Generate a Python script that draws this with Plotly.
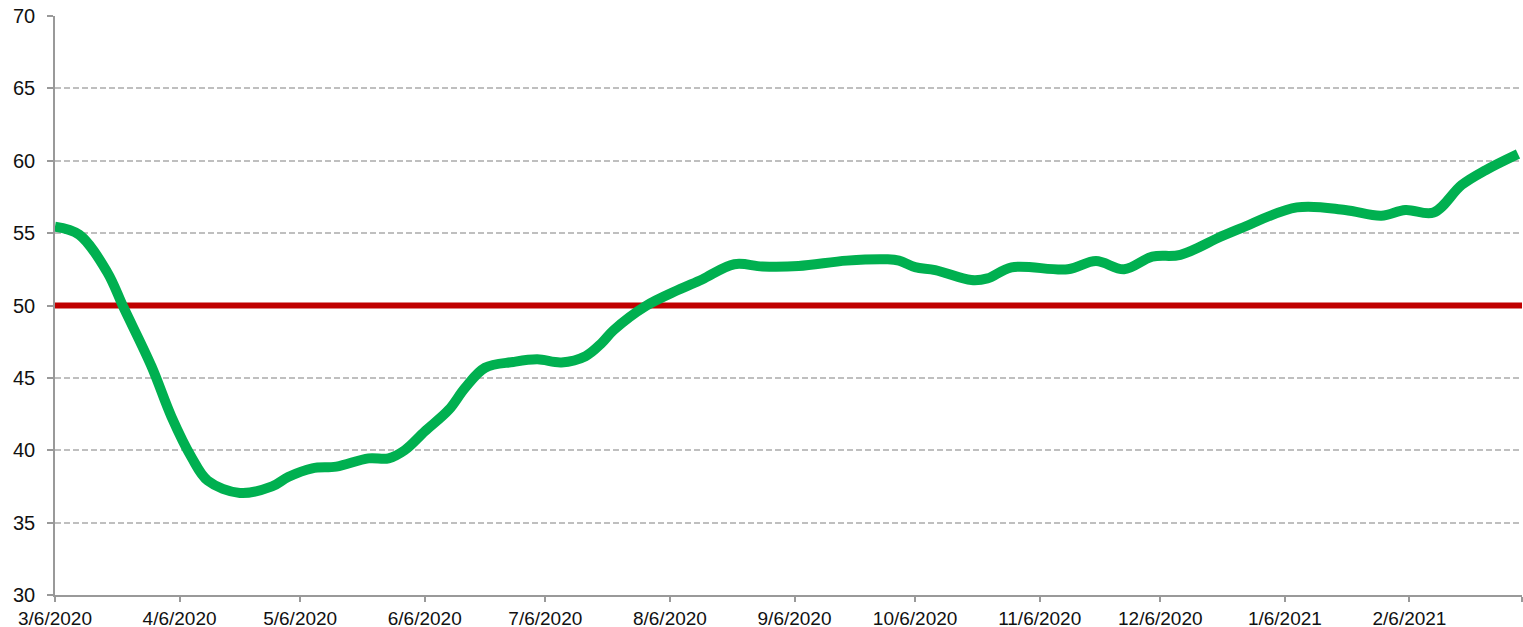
import plotly.graph_objects as go

dates = [
    "2020-03-06", "2020-03-12", "2020-03-19", "2020-03-23", "2020-03-30", "2020-04-04",
    "2020-04-09", "2020-04-13", "2020-04-21", "2020-04-29", "2020-05-03", "2020-05-09",
    "2020-05-15", "2020-05-23", "2020-05-28", "2020-06-01", "2020-06-06", "2020-06-12",
    "2020-06-16", "2020-06-21", "2020-06-28", "2020-07-04", "2020-07-10", "2020-07-16",
    "2020-07-20", "2020-07-23", "2020-07-31", "2020-08-08", "2020-08-14", "2020-08-22",
    "2020-08-29", "2020-09-07", "2020-09-19", "2020-09-29", "2020-10-02", "2020-10-06",
    "2020-10-11", "2020-10-20", "2020-10-24", "2020-10-30", "2020-11-13", "2020-11-20",
    "2020-11-27", "2020-12-04", "2020-12-11", "2020-12-21", "2020-12-26", "2021-01-09",
    "2021-01-21", "2021-01-30", "2021-02-05", "2021-02-12", "2021-02-19", "2021-02-25",
    "2021-03-05",
]
values = [
    55.45, 54.9, 52.3, 49.9, 45.8, 42.3,
    39.5, 37.9, 37.05, 37.5, 38.15, 38.75,
    38.87, 39.44, 39.44, 40.0, 41.3, 42.8,
    44.3, 45.7, 46.1, 46.28, 46.07, 46.5,
    47.4, 48.3, 49.97, 51.07, 51.8, 52.85,
    52.7, 52.73, 53.1, 53.19, 53.1, 52.65,
    52.45, 51.76, 51.87, 52.64, 52.5, 53.07,
    52.5, 53.37, 53.5, 54.75, 55.33, 56.78,
    56.6, 56.2, 56.6, 56.42, 58.33, 59.36,
    60.47,
]

threshold_dates = ["2020-03-06", "2021-03-06"]
threshold_values = [50, 50]

tick_vals = [
    "2020-03-06", "2020-04-06", "2020-05-06", "2020-06-06", "2020-07-06", "2020-08-06",
    "2020-09-06", "2020-10-06", "2020-11-06", "2020-12-06", "2021-01-06", "2021-02-06",
    "2021-03-06",
]
tick_text = [
    "3/6/2020", "4/6/2020", "5/6/2020", "6/6/2020", "7/6/2020", "8/6/2020",
    "9/6/2020", "10/6/2020", "11/6/2020", "12/6/2020", "1/6/2021", "2/6/2021",
    "",
]
y_ticks = [30, 35, 40, 45, 50, 55, 60, 65, 70]

fig = go.Figure()
fig.add_trace(go.Scatter(
    x=threshold_dates, y=threshold_values, mode="lines",
    line=dict(color="#C00000", width=6), hoverinfo="skip", showlegend=False,
))
fig.add_trace(go.Scatter(
    x=dates, y=values, mode="lines",
    line=dict(color="#00B050", width=10, shape="spline", smoothing=1.0),
    showlegend=False,
))

fig.update_layout(
    width=1523, height=627,
    margin=dict(l=55, r=1, t=16, b=32, autoexpand=False),
    paper_bgcolor="white", plot_bgcolor="white",
    font=dict(family="Liberation Sans, Arial, sans-serif", size=18, color="#111111"),
)
fig.update_xaxes(
    type="date", range=["2020-03-06", "2021-03-06"],
    tickvals=tick_vals, ticktext=tick_text, automargin=False,
    showgrid=False, showline=True, linecolor="#999999", linewidth=1.5,
    ticks="outside", ticklen=5, tickcolor="#999999", tickwidth=1.5,
    ticklabelstandoff=0, ticklabeloverflow="allow",
    tickfont=dict(size=19), zeroline=False,
)
fig.update_yaxes(
    range=[30, 70], tickvals=y_ticks, automargin=False,
    showgrid=True, gridcolor="#BFBFBF", gridwidth=1.5, griddash="6px,3px",
    showline=True, linecolor="#999999", linewidth=1.5,
    ticks="outside", ticklen=6, tickcolor="#999999", tickwidth=1.5,
    ticklabelstandoff=8, ticklabeloverflow="allow",
    tickfont=dict(size=20), zeroline=False,
)

fig.write_html(
    "out.html",
    config={"displayModeBar": False},
    post_script="document.body.style.margin='0';document.body.style.overflow='hidden';",
)
